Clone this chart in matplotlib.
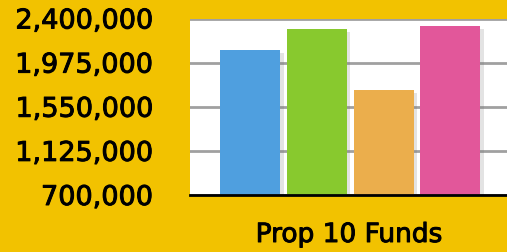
import matplotlib.pyplot as plt
import matplotlib.patheffects as pe

funds = ['A', 'B', 'C', 'D']
amounts = [2095000, 2300000, 1710000, 2328000]
colors = ['#4F9FDF', '#88C92E', '#EBAE4C', '#E2579A']
yticks = [700000, 1125000, 1550000, 1975000, 2400000]
bg = '#F2C200'

fig = plt.figure(figsize=(5.07, 2.52), dpi=100, facecolor=bg)
ax = fig.add_axes([190/507, 57/252, 317/507, 176.5/252])
ax.set_facecolor('white')

bars = ax.bar(range(len(funds)), amounts, width=0.9, color=colors, zorder=3)
for b in bars:
    b.set_path_effects([pe.SimplePatchShadow(offset=(2.5, -2), shadow_rgbFace='#777777', alpha=0.2), pe.Normal()])

# slightly heavier text, like the original's medium weight
thick = [pe.withStroke(linewidth=0.7, foreground='black')]

ax.set_xlim(-0.9, 3.85)
ax.set_ylim(700000, 2400000)
ax.set_yticks(yticks)
ax.set_yticklabels([f'{v:,}' for v in yticks], fontsize=19.5, family='DejaVu Sans')
for t in ax.get_yticklabels():
    t.set_path_effects(thick)
ax.tick_params(axis='y', length=0, pad=27)
ax.set_xticks([])
ax.yaxis.grid(True, color='#A0A0A0', linewidth=2, zorder=1)
for s in ['top', 'right', 'left']:
    ax.spines[s].set_visible(False)
ax.spines['bottom'].set_linewidth(2)
ax.spines['bottom'].set_zorder(4)

fig.text(349/507, 1 - 235/252, 'Prop 10 Funds', fontsize=19, ha='center', va='center',
         path_effects=thick)

fig.savefig('out.png', dpi=100, facecolor=bg)
